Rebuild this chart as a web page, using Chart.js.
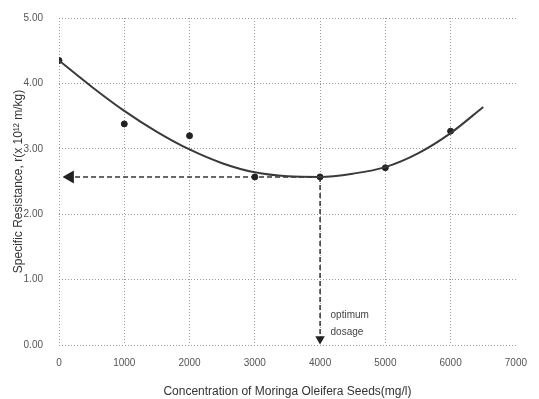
<!DOCTYPE html>
<html>
<head>
<meta charset="utf-8">
<script src="https://cdn.jsdelivr.net/npm/chart.js@4"></script>
<style>
html,body{margin:0;padding:0;background:#fff;}
#wrap{width:539px;height:399px;position:relative;}
</style>
</head>
<body>
<div id="wrap"><canvas id="c" width="539" height="399"></canvas></div>
<script>
const doseX = [0, 1000, 2000, 3000, 4000, 5000, 6000];
const resistance = [4.35, 3.38, 3.20, 2.57, 2.57, 2.71, 3.27];
const curveX = [0, 500, 1000, 1500, 2000, 2500, 3000, 3500, 4000, 4500, 5000, 5500, 6000, 6500];
const curveY = [4.35, 3.95, 3.58, 3.26, 2.99, 2.78, 2.64, 2.58, 2.57, 2.62, 2.72, 2.93, 3.24, 3.64];
const optimumX = [4000, 170];
const optimumYLine = [2.57, 2.57];
const dropX = [4000, 4000];
const dropY = [2.57, 0.09];
const xTicks = [0, 1000, 2000, 3000, 4000, 5000, 6000, 7000];
const yTicks = [0, 1, 2, 3, 4, 5];
const annotationText = ['optimum', 'dosage'];
const annotationPos = [[4160, 0.46], [4160, 0.19]];

const toXY = (xs, ys) => xs.map((x, i) => ({x: x, y: ys[i]}));

const textPlugin = {
  id: 'textPlugin',
  afterDatasetsDraw(chart) {
    const {ctx, scales} = chart;
    ctx.save();
    ctx.font = '10px "Liberation Sans", Arial, sans-serif';
    ctx.fillStyle = '#444';
    ctx.textBaseline = 'middle';
    ctx.textAlign = 'left';
    annotationText.forEach((t, i) => {
      ctx.fillText(t, scales.x.getPixelForValue(annotationPos[i][0]), scales.y.getPixelForValue(annotationPos[i][1]));
    });
    ctx.restore();
  }
};

new Chart(document.getElementById('c'), {
  type: 'line',
  data: {
    datasets: [
      {
        label: 'fit',
        data: toXY(curveX, curveY),
        borderColor: '#3a3a3a',
        borderWidth: 2,
        pointRadius: 0,
        tension: 0.4,
        cubicInterpolationMode: 'monotone',
        fill: false
      },
      {
        label: 'data',
        data: toXY(doseX, resistance),
        showLine: false,
        pointRadius: 3,
        pointBackgroundColor: '#222',
        pointBorderColor: '#222'
      },
      {
        label: 'h',
        data: toXY(optimumX, optimumYLine),
        borderColor: '#333',
        borderWidth: 1.5,
        borderDash: [5, 3],
        pointStyle: 'triangle',
        pointRadius: [0, 6],
        pointRotation: 270,
        pointBackgroundColor: '#222',
        pointBorderColor: '#222',
        tension: 0
      },
      {
        label: 'v',
        data: toXY(dropX, dropY),
        borderColor: '#333',
        borderWidth: 1.5,
        borderDash: [5, 3],
        pointStyle: 'triangle',
        pointRadius: [0, 4],
        pointRotation: 180,
        pointBackgroundColor: '#222',
        pointBorderColor: '#222',
        tension: 0
      }
    ]
  },
  options: {
    responsive: false,
    animation: false,
    devicePixelRatio: 1,
    layout: {padding: {top: 18, right: 21, left: 11, bottom: 0}},
    plugins: {legend: {display: false}, tooltip: {enabled: false}},
    scales: {
      x: {
        type: 'linear',
        min: 0, max: 7000,
        afterBuildTicks(s) { s.ticks = xTicks.map(v => ({value: v})); },
        afterFit(s) { s.height = 54; },
        ticks: {
          padding: 12,
          font: {family: '"Liberation Sans", Arial, sans-serif', size: 10},
          color: '#555',
          maxRotation: 0,
          callback: v => String(v)
        },
        grid: {
          drawTicks: false,
          color: ctx => (ctx.tick && ctx.tick.value === 7000) ? 'rgba(0,0,0,0)' : '#999',
          lineWidth: 1
        },
        border: {display: false, dash: [1, 2]},
        title: {
          display: true,
          text: 'Concentration of Moringa Oleifera Seeds(mg/l)',
          font: {family: '"Liberation Sans", Arial, sans-serif', size: 12},
          color: '#333',
          padding: {top: 8, bottom: 0}
        }
      },
      y: {
        min: 0, max: 5,
        afterBuildTicks(s) { s.ticks = yTicks.map(v => ({value: v})); },
        afterFit(s) { s.width = 48; s.paddingTop = 0; s.paddingBottom = 0; },
        ticks: {
          padding: 16,
          font: {family: '"Liberation Sans", Arial, sans-serif', size: 10},
          color: '#555',
          callback: v => v.toFixed(2)
        },
        grid: {drawTicks: false, color: '#999', lineWidth: 1},
        border: {display: false, dash: [1, 2]},
        title: {
          display: true,
          text: 'Specific Resistance, r(x 10\u00B9\u00B2 m/kg)',
          font: {family: '"Liberation Sans", Arial, sans-serif', size: 12},
          color: '#333',
          padding: {top: 0, bottom: 4}
        }
      }
    }
  },
  plugins: [textPlugin]
});
</script>
</body>
</html>
